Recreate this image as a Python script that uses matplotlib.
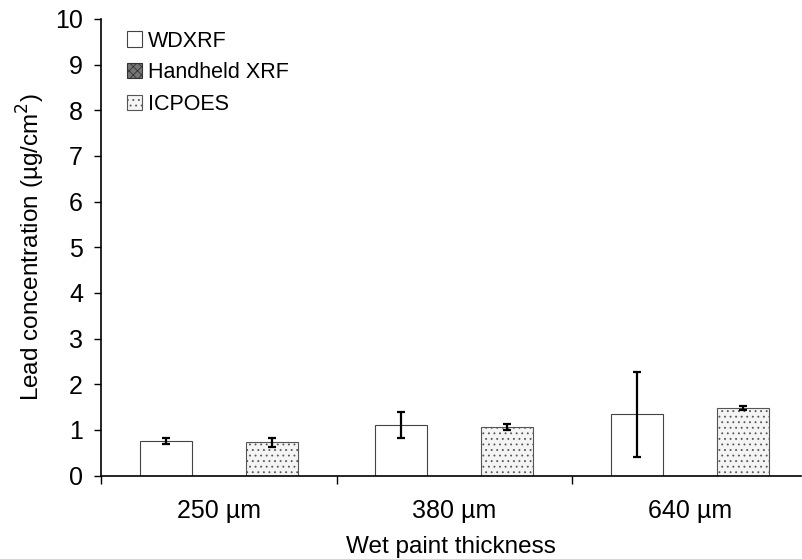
import matplotlib
matplotlib.use("Agg")
import matplotlib.pyplot as plt
import numpy as np

plt.rcParams['font.family'] = ['Liberation Sans', 'DejaVu Sans']
plt.rcParams['hatch.linewidth'] = 0.6

categories = ["250 µm", "380 µm", "640 µm"]
series = ["WDXRF", "Handheld XRF", "ICPOES"]
wdxrf = [0.75, 1.11, 1.34]
wdxrf_err = [0.07, 0.29, 0.93]
handheld = [0.0, 0.0, 0.0]
handheld_err = [0.0, 0.0, 0.0]
icpoes = [0.73, 1.06, 1.48]
icpoes_err = [0.10, 0.07, 0.05]

fig = plt.figure(figsize=(8.02, 5.59), dpi=100)
W, H = 802, 559
ax = fig.add_axes([101 / W, 1 - 475.5 / H, 700 / W, (475.5 - 19) / H])

x = np.arange(len(categories))
bw = 0.22
off = 0.225
ax.bar(x - off, wdxrf, bw, color='white', edgecolor='#444444', linewidth=0.8,
       label=series[0], zorder=2)
ax.bar(x, handheld, bw, color='#777777', edgecolor='#333333', linewidth=0.8,
       hatch='xxxx', label=series[1], zorder=2)
ax.bar(x + off, icpoes, bw, color='#f4f4f4', edgecolor='#555555', linewidth=0.8,
       hatch='...', label=series[2], zorder=2)

ax.errorbar(x - off, wdxrf, yerr=wdxrf_err, fmt='none', ecolor='black',
            elinewidth=1.6, capsize=2.6, capthick=1.6, zorder=3)
ax.errorbar(x + off, icpoes, yerr=icpoes_err, fmt='none', ecolor='black',
            elinewidth=1.6, capsize=2.6, capthick=1.6, zorder=3)

ax.set_ylim(0, 10)
ax.set_xlim(-0.5, -0.5 + 700 / 235.5)
ax.set_yticks(range(0, 11))
ax.tick_params(axis='y', direction='out', length=5, width=1, labelsize=18, pad=8)
ax.set_xticks(x)
ax.set_xticklabels(categories)
ax.tick_params(axis='x', which='major', length=0, labelsize=18, pad=17)
ax.set_xticks([-0.5, 0.5, 1.5], minor=True)
ax.tick_params(axis='x', which='minor', direction='out', length=6, width=1)

for s in ['top', 'right']:
    ax.spines[s].set_visible(False)
for s in ['left', 'bottom']:
    ax.spines[s].set_linewidth(1.2)

ax.set_ylabel("Lead concentration (µg/cm$^2$)", fontsize=17.5, labelpad=6)
ax.set_xlabel("Wet paint thickness", fontsize=17.5, labelpad=9)

leg = ax.legend(loc='upper left', bbox_to_anchor=(0.023, 0.996), frameon=False,
                fontsize=15.5, handlelength=0.7, handleheight=0.7,
                handletextpad=0.3, labelspacing=0.5, borderaxespad=0.05)

fig.savefig("out.png", dpi=100)
